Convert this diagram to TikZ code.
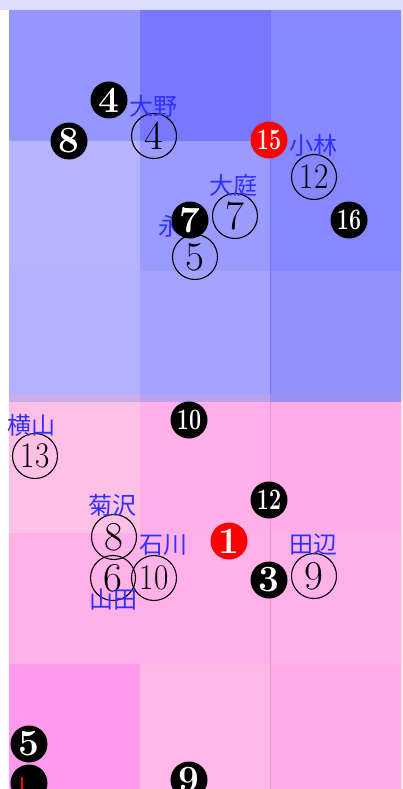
\documentclass[tikz,border=0pt]{standalone}
\usepackage{fontspec}
\newfontfamily\jpfont{Noto Sans CJK JP}
\usetikzlibrary{positioning}

% cell colours
\definecolor{edgeblue}{HTML}{DEDEFF}
\definecolor{edgepink}{HTML}{FFE2F0}
\definecolor{bA}{HTML}{9696FF}
\definecolor{bB}{HTML}{7878FF}
\definecolor{bC}{HTML}{8888FF}
\definecolor{bD}{HTML}{B4B4FF}
\definecolor{bE}{HTML}{9A9AFF}
\definecolor{bF}{HTML}{8787FF}
\definecolor{bG}{HTML}{B1B1FF}
\definecolor{bH}{HTML}{A4A4FF}
\definecolor{bI}{HTML}{9191FF}
\definecolor{pA}{HTML}{FFC0E6}
\definecolor{pB}{HTML}{FFB0E8}
\definecolor{pC}{HTML}{FFAEE8}
\definecolor{pD}{HTML}{FFB1E8}
\definecolor{pG}{HTML}{FF99EE}
\definecolor{pH}{HTML}{FFB8E8}
\definecolor{mixA}{HTML}{C8AEEB}
\definecolor{mixB}{HTML}{B9A2EC}
\definecolor{mixC}{HTML}{9C8FF4}
\definecolor{namecol}{HTML}{3030FF}

\newcommand{\twoopen}[1]{\scalebox{0.76}[0.88]{#1}}
\newcommand{\twoblack}[1]{\scalebox{0.58}[0.8]{#1}}

\tikzset{
  openno/.style={circle, draw, line width=1.1pt, minimum size=45pt, inner sep=0pt,
    font=\fontsize{41}{41}\selectfont},
  blackno/.style={circle, fill=black, text=white, minimum size=37pt, inner sep=0pt,
    font=\fontsize{37}{37}\selectfont\bfseries},
  redno/.style={blackno, fill=red},
  who/.style={text=namecol, inner sep=0pt, font=\jpfont\fontsize{24}{24}\selectfont}
}

\begin{document}
\begin{tikzpicture}[x=1pt,y=-1pt]

\useasboundingbox (0,0) rectangle (403,789);

%---------------------------------------
% Grid positions
%---------------------------------------
\def\xa{9}
\def\xb{140}
\def\xc{270}
\def\xd{401}

%====================================================
% BLUE BLOCK
%====================================================
\fill[edgeblue] (0,0) rectangle (403,10);
\fill[edgeblue] (\xd,10) rectangle (403,400);
\fill[edgepink] (\xd,400) rectangle (403,789);

\fill[bA] (\xa,10) rectangle (\xb,141);
\fill[bB] (\xb,10) rectangle (\xc,141);
\fill[bC] (\xc,10) rectangle (\xd,141);
\fill[bD] (\xa,141) rectangle (\xb,271);
\fill[bE] (\xb,141) rectangle (\xc,271);
\fill[bF] (\xc,141) rectangle (\xd,271);
\fill[bG] (\xa,271) rectangle (\xb,394);
\fill[bH] (\xb,271) rectangle (\xc,394);
\fill[bI] (\xc,271) rectangle (\xd,394);

% overlap with the pink block
\fill[mixA] (\xa,394) rectangle (\xb,402);
\fill[mixB] (\xb,394) rectangle (\xc,402);
\fill[mixC] (\xc,394) rectangle (\xd,402);

%====================================================
% PINK BLOCK
%====================================================
\fill[pA] (\xa,402) rectangle (\xb,533);
\fill[pB] (\xb,402) rectangle (\xc,533);
\fill[pC] (\xc,402) rectangle (\xd,533);
\fill[pD] (\xa,533) rectangle (\xd,664);
\fill[pG] (\xa,664) rectangle (\xb,789);
\fill[pH] (\xb,664) rectangle (\xc,789);
\fill[pC] (\xc,664) rectangle (\xd,789);

% column seam
\draw[line width=1pt, blue!55!white] (\xc,10) -- (\xc,394);
\draw[line width=1pt, magenta!45!white] (\xc,402) -- (\xc,789);

%---------------------------------------
% Open circles
%---------------------------------------
\node[openno] (o4)  at (154,136) {4};
\node[openno] (o12) at (314,177) {\twoopen{12}};
\node[openno] (o7)  at (235,216) {7};
\node[openno] (o5)  at (195,257) {5};
\node[openno] (o13) at (35,456)  {\twoopen{13}};
\node[openno] (o8)  at (114,537) {8};
\node[openno] (o9)  at (314,576) {9};
\node[openno] (o6)  at (113,578) {6};
\node[openno] (o10) at (154,578) {\twoopen{10}};

%---------------------------------------
% Names
%---------------------------------------
\node[who] (ono)      at (153,106) {大野};
\node[who] (kobayashi) at (313,145) {小林};
\node[who] (oba)      at (233,185) {大庭};
\node[who] (nagai)    at (182,227) {永井};
\node[who] (yokoyama) at (32,425)  {横山};
\node[who] (kikuzawa) at (112,505) {菊沢};
\node[who] (ishikawa) at (163,545) {石川};
\node[who] (tanabe)   at (313,545) {田辺};
\node[who] (yamada)   at (113,600) {山田};

%---------------------------------------
% Filled circles
%---------------------------------------
\node[blackno] (b4)  at (109,100) {4};
\node[blackno] (b8)  at (69,141)  {8};
\node[redno]   (r15) at (269,140) {\twoblack{15}};
\node[blackno] (b7)  at (190,220) {7};
\node[blackno] (b16) at (349,220) {\twoblack{16}};
\node[blackno] (b10) at (189,420) {\twoblack{10}};
\node[blackno] (b12) at (269,500) {\twoblack{12}};
\node[redno]   (r1)  at (229,541) {1};
\node[blackno] (b3)  at (269,580) {3};
\node[blackno] (b5)  at (29,744)  {5};
\node[blackno] (bx)  at (29,783)  {};
\node[blackno] (b9)  at (189,780) {9};
\draw[red, line width=2pt] (22,777) -- (22,789);

\end{tikzpicture}
\end{document}
